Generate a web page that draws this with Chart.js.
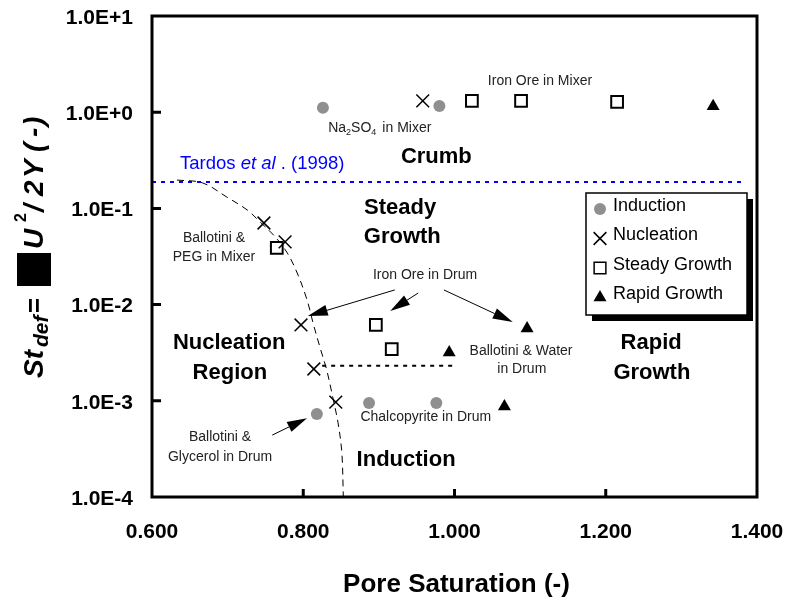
<!DOCTYPE html>
<html>
<head>
<meta charset="utf-8">
<script src="https://cdn.jsdelivr.net/npm/chart.js@4"></script>
<style>
  html, body { margin: 0; padding: 0; background: #ffffff; }
  #wrap { width: 790px; height: 599px; }
</style>
</head>
<body>
<div id="wrap"><canvas id="c" width="790" height="599"></canvas></div>
<script>
const FONT = '"Liberation Sans", Arial, Helvetica, sans-serif';

// Axis ticks
const xTickValues = [0.6, 0.8, 1.0, 1.2, 1.4];
const xTickLabels = ['0.600', '0.800', '1.000', '1.200', '1.400'];
const yTickValues = [1e-4, 1e-3, 1e-2, 1e-1, 1, 10];
const yTickLabels = ['1.0E-4', '1.0E-3', '1.0E-2', '1.0E-1', '1.0E+0', '1.0E+1'];

// Granulation regimes: pore saturation vs. Stokes deformation number
const seriesNames = ['Induction', 'Nucleation', 'Steady Growth', 'Rapid Growth'];
const inductionSat = [0.826, 0.980, 0.818, 0.887, 0.976];
const inductionSt  = [1.11, 1.16, 7.3e-4, 9.5e-4, 9.5e-4];
const nucleationSat = [0.958, 0.748, 0.776, 0.797, 0.814, 0.843];
const nucleationSt  = [1.31, 0.0705, 0.0448, 0.00614, 0.00214, 9.7e-4];
const steadySat = [0.765, 1.023, 1.088, 1.215, 0.896, 0.917];
const steadySt  = [0.0388, 1.31, 1.31, 1.28, 0.00614, 0.00345];
const rapidSat = [1.342, 1.096, 0.993, 1.066];
const rapidSt  = [1.15, 0.00565, 0.00318, 8.7e-4];

// Tardos et al. (1998) crumb limit
const tardosSat = [0.6, 1.384];
const tardosSt  = [0.188, 0.188];

// Nucleation / induction boundary (sketched)
const boundarySat = [0.633, 0.667, 0.699, 0.726, 0.743, 0.763, 0.779, 0.792, 0.805, 0.813, 0.822, 0.831, 0.839, 0.846, 0.851, 0.853];
const boundarySt  = [0.197, 0.184, 0.131, 0.0962, 0.0722, 0.0505, 0.0343, 0.0213, 0.0112, 0.00644, 0.00362, 0.00209, 0.00109, 5.9e-4, 2.9e-4, 1e-4];

// Steady growth / induction split in the drum
const splitSat = [0.825, 0.997];
const splitSt  = [0.00232, 0.00232];

const pts = (xs, ys) => xs.map((x, i) => ({ x: x, y: ys[i] }));

// Text placed in data coordinates
const regionLabels = [
  { t: 'Crumb', x: 0.976, y: 0.342 },
  { t: 'Steady', x: 0.928, y: 0.101 },
  { t: 'Growth', x: 0.931, y: 0.0505 },
  { t: 'Nucleation', x: 0.702, y: 0.00399 },
  { t: 'Region', x: 0.703, y: 0.00195 },
  { t: 'Rapid', x: 1.260, y: 0.00399 },
  { t: 'Growth', x: 1.261, y: 0.00195 },
  { t: 'Induction', x: 0.936, y: 2.43e-4 }
];
const noteLabels = [
  { t: 'Iron Ore in Mixer', x: 1.113, y: 2.11 },
  { t: 'Ballotini &', x: 0.682, y: 0.0492 },
  { t: 'PEG in Mixer', x: 0.682, y: 0.0313 },
  { t: 'Iron Ore in Drum', x: 0.961, y: 0.0203 },
  { t: 'Ballotini & Water', x: 1.088, y: 0.0033 },
  { t: 'in Drum', x: 1.089, y: 0.00214 },
  { t: 'Chalcopyrite in Drum', x: 0.962, y: 6.8e-4 },
  { t: 'Ballotini &', x: 0.690, y: 4.2e-4 },
  { t: 'Glycerol in Drum', x: 0.690, y: 2.6e-4 }
];
const arrows = [
  { from: [0.921, 0.0142], to: [0.806, 0.0076] },
  { from: [0.952, 0.0132], to: [0.915, 0.00857] },
  { from: [0.986, 0.0142], to: [1.077, 0.00659] },
  { from: [0.759, 4.4e-4], to: [0.805, 6.6e-4] }
];

function drawArrow(ctx, x0, y0, x1, y1) {
  const a = Math.atan2(y1 - y0, x1 - x0), L = 20, W = 5.5;
  const bx = x1 - L * Math.cos(a), by = y1 - L * Math.sin(a);
  ctx.beginPath();
  ctx.moveTo(x0, y0);
  ctx.lineTo(bx, by);
  ctx.lineWidth = 1;
  ctx.stroke();
  ctx.beginPath();
  ctx.moveTo(x1, y1);
  ctx.lineTo(bx - W * Math.sin(a), by + W * Math.cos(a));
  ctx.lineTo(bx + W * Math.sin(a), by - W * Math.cos(a));
  ctx.closePath();
  ctx.fill();
}

function drawRuns(ctx, runs, x, y) {
  let cx = x;
  runs.forEach(r => {
    ctx.font = r.font;
    ctx.fillText(r.t, cx, y + (r.dy || 0));
    cx += ctx.measureText(r.t).width + (r.gap || 0);
  });
}

const decorPlugin = {
  id: 'decor',
  afterDatasetsDraw(chart) {
    const ctx = chart.ctx, xs = chart.scales.x, ys = chart.scales.y;
    const P = (x, y) => [xs.getPixelForValue(x), ys.getPixelForValue(y)];
    ctx.save();
    ctx.fillStyle = '#000';
    ctx.strokeStyle = '#000';

    // region names
    ctx.textAlign = 'center';
    ctx.textBaseline = 'middle';
    ctx.font = 'bold 22px ' + FONT;
    regionLabels.forEach(l => { const p = P(l.x, l.y); ctx.fillText(l.t, p[0], p[1]); });

    // material notes
    ctx.font = '14px ' + FONT;
    ctx.fillStyle = '#222';
    noteLabels.forEach(l => { const p = P(l.x, l.y); ctx.fillText(l.t, p[0], p[1]); });

    // Na2SO4 in Mixer
    ctx.textAlign = 'left';
    ctx.textBaseline = 'alphabetic';
    const pn = P(0.833, 0.70);
    drawRuns(ctx, [
      { t: 'Na', font: '14px ' + FONT },
      { t: '2', font: '9px ' + FONT, dy: 3 },
      { t: 'SO', font: '14px ' + FONT },
      { t: '4', font: '9px ' + FONT, dy: 3, gap: 6 },
      { t: 'in Mixer', font: '14px ' + FONT }
    ], pn[0], pn[1] + 5);

    // Tardos et al. (1998)
    ctx.fillStyle = '#0000ff';
    const pt = P(0.637, 0.303);
    drawRuns(ctx, [
      { t: 'Tardos ', font: '18.5px ' + FONT },
      { t: 'et al', font: 'italic 18.5px ' + FONT },
      { t: ' . (1998)', font: '18.5px ' + FONT }
    ], pt[0], pt[1] + 6.5);

    // arrows
    ctx.fillStyle = '#000';
    arrows.forEach(a => {
      const p0 = P(a.from[0], a.from[1]), p1 = P(a.to[0], a.to[1]);
      drawArrow(ctx, p0[0], p0[1], p1[0], p1[1]);
    });
    ctx.restore();
  },
  afterDraw(chart) {
    const ctx = chart.ctx, area = chart.chartArea, xs = chart.scales.x, ys = chart.scales.y;
    ctx.save();
    ctx.strokeStyle = '#000';
    ctx.fillStyle = '#000';

    // frame
    ctx.lineWidth = 3;
    ctx.strokeRect(area.left, area.top, area.right - area.left, area.bottom - area.top);

    // inward tick marks
    ctx.beginPath();
    yTickValues.forEach(v => {
      const y = ys.getPixelForValue(v);
      if (y > area.top + 2 && y < area.bottom - 2) { ctx.moveTo(area.left, y); ctx.lineTo(area.left + 9, y); }
    });
    xTickValues.forEach(v => {
      const x = xs.getPixelForValue(v);
      if (x > area.left + 2 && x < area.right - 2) { ctx.moveTo(x, area.bottom); ctx.lineTo(x, area.bottom - 8); }
    });
    ctx.stroke();

    // legend with drop shadow
    const lx = area.right - 171, ly = area.top + 177, lw = 161, lh = 122;
    ctx.fillRect(lx + 6, ly + 6, lw, lh);
    ctx.fillStyle = '#fff';
    ctx.fillRect(lx, ly, lw, lh);
    ctx.lineWidth = 1.5;
    ctx.strokeRect(lx, ly, lw, lh);
    ctx.font = '18px ' + FONT;
    ctx.textAlign = 'left';
    ctx.textBaseline = 'middle';
    for (let i = 0; i < 4; i++) {
      const ds = chart.data.datasets[i];
      const my = ly + 16 + i * 29.5;
      const mx = lx + 14;
      ctx.fillStyle = ds.backgroundColor;
      ctx.strokeStyle = ds.borderColor;
      Chart.helpers.drawPoint(ctx, {
        pointStyle: ds.pointStyle, radius: ds.pointRadius, rotation: 0, borderWidth: ds.borderWidth
      }, mx, my);
      ctx.fillStyle = '#000';
      ctx.fillText(ds.label, lx + 27, my - 3);
    }

    // x axis title
    ctx.font = 'bold 26px ' + FONT;
    ctx.textAlign = 'center';
    ctx.textBaseline = 'alphabetic';
    ctx.fillText('Pore Saturation (-)', (area.left + area.right) / 2 + 2, 592);

    // y axis title (rotated); u runs upward along the page
    ctx.save();
    ctx.rotate(-Math.PI / 2);
    ctx.textAlign = 'left';
    const bi = 'italic bold 28px ' + FONT;
    const put = (t, font, yBottom, base) => { ctx.font = font; ctx.fillText(t, -yBottom, base); };
    put('St', bi, 378, 43);
    put('def', 'italic bold 21px ' + FONT, 347, 48);
    put('=', 'bold 26px ' + FONT, 313, 43);
    put('U', bi, 249, 43);
    put('2', 'bold 16px ' + FONT, 222, 26);
    put('/', bi, 212, 43);
    put('2', bi, 196, 43);
    put('Y', bi, 178, 43);
    put('(', bi, 152, 43);
    put('-', bi, 137, 43);
    put(')', bi, 126, 43);
    ctx.restore();
    // missing-glyph box between "=" and "U"
    ctx.fillRect(17, 253, 34, 33);

    ctx.restore();
  }
};

new Chart(document.getElementById('c'), {
  type: 'scatter',
  data: {
    datasets: [
      { label: seriesNames[0], data: pts(inductionSat, inductionSt), pointStyle: 'circle', pointRadius: 6,
        backgroundColor: '#8f8f8f', borderColor: '#8f8f8f', borderWidth: 0 },
      { label: seriesNames[1], data: pts(nucleationSat, nucleationSt), pointStyle: 'crossRot', pointRadius: 9,
        backgroundColor: '#000', borderColor: '#000', borderWidth: 1.5 },
      { label: seriesNames[2], data: pts(steadySat, steadySt), pointStyle: 'rect', pointRadius: 8.3,
        backgroundColor: '#fff', borderColor: '#000', borderWidth: 2 },
      { label: seriesNames[3], data: pts(rapidSat, rapidSt), pointStyle: 'triangle', pointRadius: 7.5,
        backgroundColor: '#000', borderColor: '#000', borderWidth: 0 },
      { label: 'Tardos', data: pts(tardosSat, tardosSt), showLine: true, pointRadius: 0,
        borderColor: '#0000ff', borderWidth: 2, borderDash: [4, 5] },
      { label: 'boundary', data: pts(boundarySat, boundarySt), showLine: true, pointRadius: 0,
        borderColor: '#000', borderWidth: 1, borderDash: [7, 5], tension: 0.35 },
      { label: 'split', data: pts(splitSat, splitSt), showLine: true, pointRadius: 0,
        borderColor: '#000', borderWidth: 2, borderDash: [4, 5] }
    ]
  },
  options: {
    responsive: false,
    animation: false,
    devicePixelRatio: 1,
    layout: { padding: { left: 0, right: 33, top: 16, bottom: 0 } },
    plugins: { legend: { display: false }, tooltip: { enabled: false } },
    events: [],
    scales: {
      x: {
        type: 'linear', min: 0.6, max: 1.4,
        afterFit: s => { s.height = 102; s.paddingLeft = 0; s.paddingRight = 0; },
        afterBuildTicks: s => { s.ticks = xTickValues.map(v => ({ value: v })); },
        grid: { display: false, drawTicks: false },
        border: { display: false },
        ticks: {
          autoSkip: false, maxRotation: 0, padding: 23, color: '#000',
          font: { family: FONT, size: 21, weight: 'bold' },
          callback: (v, i) => xTickLabels[i]
        }
      },
      y: {
        type: 'logarithmic', min: 1e-4, max: 10,
        afterFit: s => { s.width = 152; s.paddingTop = 0; s.paddingBottom = 0; },
        afterBuildTicks: s => { s.ticks = yTickValues.map(v => ({ value: v })); },
        grid: { display: false, drawTicks: false },
        border: { display: false },
        ticks: {
          autoSkip: false, padding: 19, labelOffset: 2, color: '#000',
          font: { family: FONT, size: 21, weight: 'bold' },
          callback: (v, i) => yTickLabels[i]
        }
      }
    }
  },
  plugins: [decorPlugin]
});
</script>
</body>
</html>
